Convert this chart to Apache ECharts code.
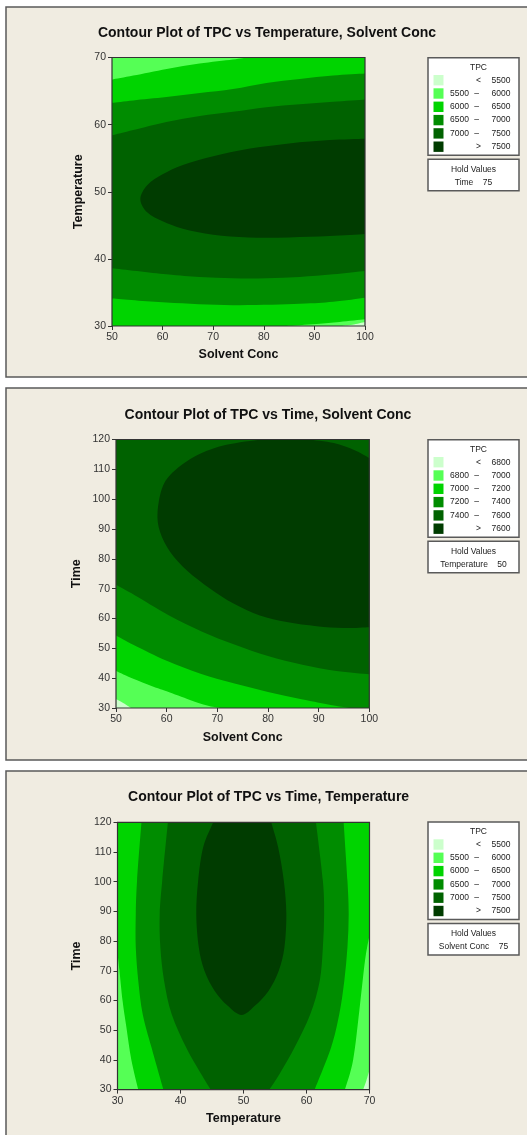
<!DOCTYPE html>
<html>
<head>
<meta charset="utf-8">
<script src="https://cdn.jsdelivr.net/npm/echarts@6/dist/echarts.min.js"></script>
<style>
  html, body { margin: 0; padding: 0; background: #ffffff; }
  #chart { width: 527px; height: 1135px; }
</style>
</head>
<body>
<div id="chart"></div>
<script>
// ---- shared band colours (lowest band first) ----
const bandColors = ['#ccffcc', '#55ff55', '#00d400', '#008c00', '#006200', '#003c00'];

// ---- Plot 1: TPC vs Temperature, Solvent Conc (Time held at 75) ----
const p1Title = 'Contour Plot of TPC vs Temperature, Solvent Conc';
const p1XName = 'Solvent Conc';
const p1YName = 'Temperature';
const p1XRange = [50, 100];
const p1YRange = [30, 70];
const p1Levels = [5500, 6000, 6500, 7000, 7500];
const p1Hold = ['Time', 75];
// contour lines as [Solvent Conc, Temperature]
const p1c5500 = [[95, 30], [97.5, 30.2], [100, 30.6]];
const p1c6000Top = [[50, 66.7], [54.2, 67.3], [60.8, 68.3], [67.3, 69.1], [73.9, 69.7], [76.8, 70]];
const p1c6000Bottom = [[84.5, 30], [90.4, 30.3], [95, 30.6], [100, 31.0]];
const p1c6500Top = [[50, 63.25], [54.2, 63.6], [60.75, 64.1], [67.35, 64.7], [73.9, 65.3], [80.5, 66.2], [87.1, 66.8], [93.7, 67.3], [100, 67.6]];
const p1c6500Bottom = [[50, 34.1], [60.75, 33.5], [73.9, 33.1], [87.1, 33.3], [93.7, 33.6], [100, 34.2]];
const p1c7000Top = [[50, 58.4], [54.2, 59.2], [60.75, 60.4], [67.35, 61.3], [73.9, 61.9], [80.5, 62.6], [87.1, 63.05], [93.7, 63.4], [100, 63.75]];
const p1c7000Bottom = [[50, 38.6], [60.75, 37.7], [67.35, 37.3], [73.9, 37.1], [80.5, 37.1], [87.1, 37.3], [93.7, 37.7], [100, 38.2]];
const p1c7500 = [[100, 57.9], [93, 57.7], [85, 57.2], [77, 56.4], [70, 55.3], [64, 54.0], [60, 52.6], [57, 51.0], [55.6, 48.9],
                 [57, 46.9], [60, 45.6], [64, 44.5], [70, 43.6], [77, 43.2], [85, 43.2], [93, 43.4], [100, 43.7]];

// ---- Plot 2: TPC vs Time, Solvent Conc (Temperature held at 50) ----
const p2Title = 'Contour Plot of TPC vs Time, Solvent Conc';
const p2XName = 'Solvent Conc';
const p2YName = 'Time';
const p2XRange = [50, 100];
const p2YRange = [30, 120];
const p2Levels = [6800, 7000, 7200, 7400, 7600];
const p2Hold = ['Temperature', 50];
// contour lines as [Solvent Conc, Time]
const p2c6800 = [[50, 33.0], [51.5, 31.6], [53, 30]];
const p2c7000 = [[50, 42.4], [53.4, 39.8], [57, 37.4], [60, 35.6], [64.6, 32.7], [68, 30.8], [70.5, 30]];
const p2c7200 = [[50, 54.3], [53.5, 51.1], [60, 45.8], [66.7, 41.5], [73.4, 38.2], [80, 35.4], [86.6, 32.9], [93, 30.8], [96, 30]];
const p2c7400 = [[50, 71.3], [53.7, 67.8], [60.3, 61.2], [67, 55.6], [73.5, 51.2], [80, 47.4], [86.8, 44.5], [93.5, 42.4], [100, 41.3]];
const p2c7600Left = [[78.5, 120], [71.8, 118.2], [66.6, 115.2], [62, 110.2], [59.3, 104.6], [58.2, 95.7], [58.7, 89], [60.7, 82.3],
                     [64, 76.1], [68.6, 70], [73.2, 65], [78.4, 61], [83.7, 58.8], [89.6, 57.4], [94.9, 56.8], [100, 57.1]];
const p2c7600Right = [[100, 113.8], [97, 116.5], [93, 118.8], [88, 120]];

// ---- Plot 3: TPC vs Time, Temperature (Solvent Conc held at 75) ----
const p3Title = 'Contour Plot of TPC vs Time, Temperature';
const p3XName = 'Temperature';
const p3YName = 'Time';
const p3XRange = [30, 70];
const p3YRange = [30, 120];
const p3Levels = [5500, 6000, 6500, 7000, 7500];
const p3Hold = ['Solvent Conc', 75];
// contour lines as [Temperature, Time]
const p3c5500 = [[69.0, 30], [69.5, 33], [70, 36.6]];
const p3c6000Left = [[30, 76], [30.3, 70.3], [30.8, 60], [31.4, 51.2], [32.2, 40], [33.3, 30]];
const p3c6000Right = [[66.1, 30], [67.4, 40], [68.4, 56.8], [69.3, 73.6], [70, 82]];
const p3c6500Left = [[33.8, 120], [33.1, 100.3], [32.9, 89], [32.9, 77.9], [33.3, 66.6], [34, 55.4], [35.4, 44.2], [37.3, 30]];
const p3c6500Right = [[61.3, 30], [63.9, 44.2], [65.2, 55.4], [66.0, 66.6], [66.5, 77.9], [66.7, 89.1], [66.5, 100.3], [65.9, 120]];
const p3c7000Left = [[38, 120], [37.1, 100.3], [36.7, 89.1], [36.8, 77.9], [37.4, 66.6], [38.6, 55.4], [40.9, 44.2], [43.3, 35.2], [44.8, 30]];
const p3c7000Right = [[54.1, 30], [55.7, 35.2], [58.1, 44.2], [60.6, 55.4], [62.1, 66.6], [62.6, 77.9], [62.8, 89.1], [62.6, 100.3], [61.5, 120]];
const p3c7500 = [[45.2, 120], [43.6, 111.6], [42.8, 100.3], [42.5, 89.1], [42.9, 77.9], [43.8, 70], [45.4, 63.3], [47.5, 58.2], [49.7, 55.1],
                 [51.8, 58.2], [54, 63.3], [55.6, 70], [56.5, 77.9], [56.8, 89.1], [56.4, 100.3], [55.5, 111.6], [54.4, 120]];

const FONT = '"Liberation Sans", Arial, sans-serif';

// Reverse a contour line so a region can be walked round its outline.
const rev = (a) => a.slice().reverse();
// Corner of the plotting window as a one-point piece.
const pt = (x, y) => [[x, y]];

// Build an SVG path from pieces: each piece is smoothed through its points,
// consecutive pieces are joined with straight segments along the frame.
function regionPath(api, pieces) {
  let d = '';
  pieces.forEach((pc, k) => {
    const pts = pc.map((p) => api.coord(p));
    d += (k === 0 ? 'M' : 'L') + pts[0][0] + ' ' + pts[0][1] + ' ';
    for (let i = 0; i < pts.length - 1; i++) {
      const p0 = pts[Math.max(i - 1, 0)], p1 = pts[i], p2 = pts[i + 1], p3 = pts[Math.min(i + 2, pts.length - 1)];
      const c1 = [p1[0] + (p2[0] - p0[0]) / 6, p1[1] + (p2[1] - p0[1]) / 6];
      const c2 = [p2[0] - (p3[0] - p1[0]) / 6, p2[1] - (p3[1] - p1[1]) / 6];
      d += 'C' + c1[0] + ' ' + c1[1] + ' ' + c2[0] + ' ' + c2[1] + ' ' + p2[0] + ' ' + p2[1] + ' ';
    }
  });
  return d + 'Z';
}

function regionSeries(gridIdx, pieces, color, z) {
  return {
    type: 'custom',
    xAxisIndex: gridIdx,
    yAxisIndex: gridIdx,
    coordinateSystem: 'cartesian2d',
    clip: true,
    silent: true,
    z: z,
    data: [[pieces[0][0][0], pieces[0][0][1]]],
    renderItem: (params, api) => ({
      type: 'path',
      shape: { pathData: regionPath(api, pieces) },
      style: { fill: color, stroke: null }
    })
  };
}

// Filled bands for each plot: base band, then the area above each contour level.
function bandsPlot1(g) {
  const [x0, x1] = p1XRange, [y0, y1] = p1YRange;
  const regions = [
    [pt(x0, y0), pt(x1, y0), pt(x1, y1), pt(x0, y1)],
    [pt(x0, y0), p1c5500, pt(x1, y1), pt(x0, y1)],
    [pt(x0, y0), p1c6000Bottom, pt(x1, y1), rev(p1c6000Top)],
    [p1c6500Bottom, rev(p1c6500Top)],
    [p1c7000Bottom, rev(p1c7000Top)],
    [p1c7500]
  ];
  return regions.map((r, i) => regionSeries(g, r, bandColors[i], 2 + i));
}
function bandsPlot2(g) {
  const [x0, x1] = p2XRange, [y0, y1] = p2YRange;
  const regions = [
    [pt(x0, y0), pt(x1, y0), pt(x1, y1), pt(x0, y1)],
    [p2c6800, pt(x1, y0), pt(x1, y1), pt(x0, y1)],
    [p2c7000, pt(x1, y0), pt(x1, y1), pt(x0, y1)],
    [p2c7200, pt(x1, y0), pt(x1, y1), pt(x0, y1)],
    [p2c7400, pt(x1, y1), pt(x0, y1)],
    [p2c7600Left, p2c7600Right]
  ];
  return regions.map((r, i) => regionSeries(g, r, bandColors[i], 2 + i));
}
function bandsPlot3(g) {
  const [x0, x1] = p3XRange, [y0, y1] = p3YRange;
  const regions = [
    [pt(x0, y0), pt(x1, y0), pt(x1, y1), pt(x0, y1)],
    [pt(x0, y0), p3c5500, pt(x1, y1), pt(x0, y1)],
    [pt(x0, y1), p3c6000Left, p3c6000Right, pt(x1, y1)],
    [p3c6500Left, p3c6500Right],
    [p3c7000Left, p3c7000Right],
    [p3c7500]
  ];
  return regions.map((r, i) => regionSeries(g, r, bandColors[i], 2 + i));
}

// Layout of the three panels
const panels = [
  { top: 7, height: 370, grid: { left: 112, top: 57.5, width: 253, height: 268.5 }, titleY: 33, titleX: 267,
    xGap: 22, yGap: 27, legendTop: 57.7 },
  { top: 388, height: 372, grid: { left: 116, top: 439.5, width: 253.3, height: 268.5 }, titleY: 415.3, titleX: 268,
    xGap: 23, yGap: 33, legendTop: 439.7 },
  { top: 771, height: 380, grid: { left: 117.5, top: 822.3, width: 252, height: 267.3 }, titleY: 797.3, titleX: 268.6,
    xGap: 22.5, yGap: 34, legendTop: 822 }
];
const plotDefs = [
  { title: p1Title, xName: p1XName, yName: p1YName, xr: p1XRange, yr: p1YRange, levels: p1Levels, hold: p1Hold },
  { title: p2Title, xName: p2XName, yName: p2YName, xr: p2XRange, yr: p2YRange, levels: p2Levels, hold: p2Hold },
  { title: p3Title, xName: p3XName, yName: p3YName, xr: p3XRange, yr: p3YRange, levels: p3Levels, hold: p3Hold }
];

const axisCommon = {
  axisLine: { show: false },
  axisTick: { show: true, inside: false, length: 4, lineStyle: { color: '#333', width: 1 } },
  axisLabel: { fontSize: 10.5, color: '#333', margin: 6, fontFamily: FONT },
  splitLine: { show: false },
  nameLocation: 'middle',
  nameTextStyle: { fontSize: 12.5, fontWeight: 'bold', color: '#111', fontFamily: FONT }
};

const graphics = [];
panels.forEach((p, i) => {
  const def = plotDefs[i];
  // panel background
  graphics.push({ type: 'rect', z: -10, silent: true,
    shape: { x: 6, y: p.top, width: 560, height: p.height },
    style: { fill: '#f0ece1', stroke: '#5a5a5a', lineWidth: 1.5 } });
  // title
  graphics.push({ type: 'text', z: 10, silent: true, x: p.titleX, y: p.titleY,
    style: { text: def.title, font: 'bold 14px ' + FONT, fill: '#111', textAlign: 'center', textVerticalAlign: 'middle' } });
  // legend box
  const lx = 428, lw = 91, lt = p.legendTop, lh = 97.5;
  graphics.push({ type: 'rect', z: 10, silent: true, shape: { x: lx, y: lt, width: lw, height: lh },
    style: { fill: '#ffffff', stroke: '#5a5a5a', lineWidth: 1.5 } });
  graphics.push({ type: 'text', z: 11, silent: true, x: 478.5, y: lt + 9.5,
    style: { text: 'TPC', font: '8.5px ' + FONT, fill: '#222', textAlign: 'center', textVerticalAlign: 'middle' } });
  const lv = def.levels;
  for (let r = 0; r < 6; r++) {
    const ry = lt + 22.5 + r * 13.3;
    graphics.push({ type: 'rect', z: 11, silent: true, shape: { x: 433.5, y: ry - 5.2, width: 10, height: 10.4 },
      style: { fill: bandColors[r] } });
    const txt = (t, x, align) => graphics.push({ type: 'text', z: 11, silent: true, x: x, y: ry,
      style: { text: String(t), font: '8.5px ' + FONT, fill: '#222', textAlign: align, textVerticalAlign: 'middle' } });
    if (r === 0) {
      txt('<', 478.5, 'center');
      txt(lv[0], 510.5, 'right');
    } else if (r === 5) {
      txt('>', 478.5, 'center');
      txt(lv[4], 510.5, 'right');
    } else {
      txt(lv[r - 1], 469, 'right');
      txt('–', 476.5, 'center');
      txt(lv[r], 510.5, 'right');
    }
  }
  // hold values box
  const ht = lt + lh + 4;
  graphics.push({ type: 'rect', z: 10, silent: true, shape: { x: lx, y: ht, width: lw, height: 31.5 },
    style: { fill: '#ffffff', stroke: '#5a5a5a', lineWidth: 1.5 } });
  graphics.push({ type: 'text', z: 11, silent: true, x: 473.5, y: ht + 10.5,
    style: { text: 'Hold Values', font: '8.5px ' + FONT, fill: '#222', textAlign: 'center', textVerticalAlign: 'middle' } });
  graphics.push({ type: 'text', z: 11, silent: true, x: 473.5, y: ht + 23.5,
    style: { text: def.hold[0] + '    ' + def.hold[1], font: '8.5px ' + FONT, fill: '#222', textAlign: 'center', textVerticalAlign: 'middle' } });
});

const option = {
  animation: false,
  backgroundColor: '#ffffff',
  grid: panels.map((p) => Object.assign({ show: true, backgroundColor: 'transparent', borderColor: '#333', borderWidth: 1.2, z: 20 }, p.grid)),
  xAxis: plotDefs.map((d, i) => Object.assign({}, axisCommon, {
    type: 'value', gridIndex: i, min: d.xr[0], max: d.xr[1], interval: 10, name: d.xName, nameGap: panels[i].xGap
  })),
  yAxis: plotDefs.map((d, i) => Object.assign({}, axisCommon, {
    type: 'value', gridIndex: i, min: d.yr[0], max: d.yr[1], interval: 10, name: d.yName, nameGap: panels[i].yGap
  })),
  graphic: { elements: graphics },
  series: [].concat(bandsPlot1(0), bandsPlot2(1), bandsPlot3(2))
};

const chart = echarts.init(document.getElementById('chart'), null, { renderer: 'canvas' });
chart.setOption(option);
</script>
</body>
</html>
